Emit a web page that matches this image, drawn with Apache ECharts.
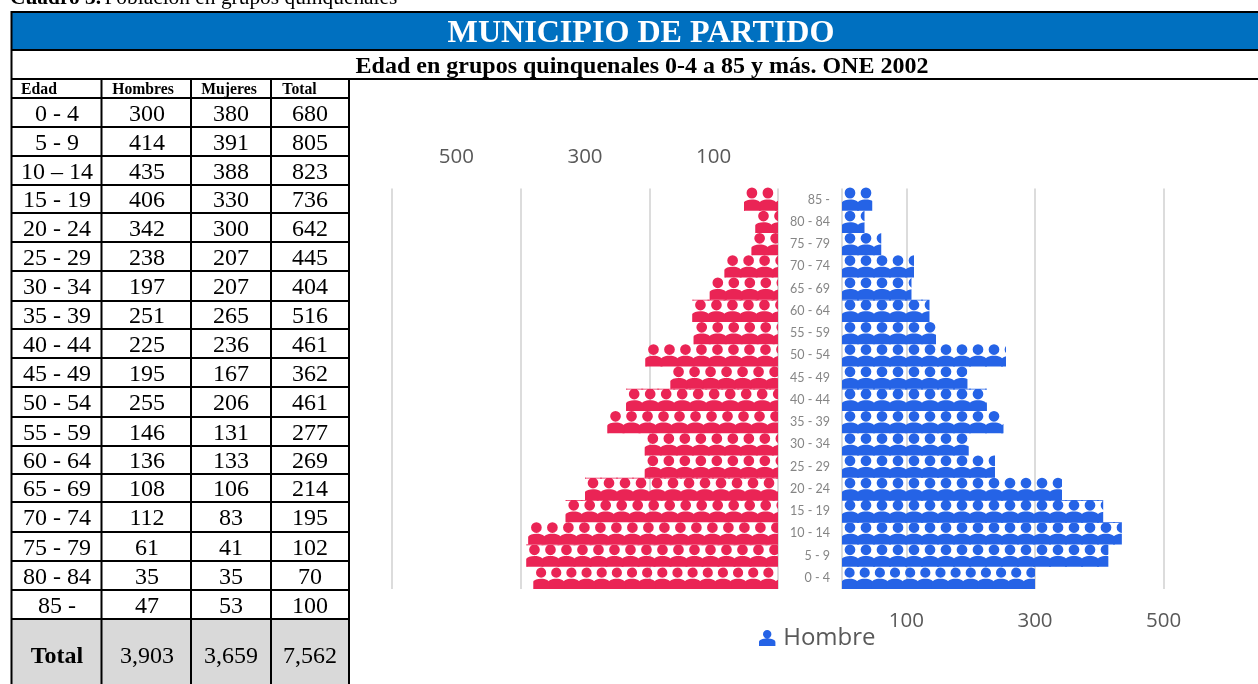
<!DOCTYPE html>
<html>
<head>
<meta charset="utf-8">
<style>html,body{margin:0;padding:0;background:#fff}#c{width:1258px;height:684px}</style>
<script src="https://cdn.jsdelivr.net/npm/echarts@6/dist/echarts.min.js"></script>
</head>
<body>
<div id="c"></div>
<script>
const categories = ['0 - 4','5 - 9','10 - 14','15 - 19','20 - 24','25 - 29','30 - 34','35 - 39','40 - 44','45 - 49','50 - 54','55 - 59','60 - 64','65 - 69','70 - 74','75 - 79','80 - 84','85 -'];
const tableAges = ['0 - 4','5 - 9','10 – 14','15 - 19','20 - 24','25 - 29','30 - 34','35 - 39','40 - 44','45 - 49','50 - 54','55 - 59','60 - 64','65 - 69','70 - 74','75 - 79','80 - 84','85 -'];
const hombres = [300,414,435,406,342,238,197,251,225,195,255,146,136,108,112,61,35,47];
const mujeres = [380,391,388,330,300,207,207,265,236,167,206,131,133,106,83,41,35,53];
const totales = [680,805,823,736,642,445,404,516,461,362,461,277,269,214,195,102,70,100];
const tableHead = ['Edad','Hombres','Mujeres','Total'];
const tableFoot = ['Total','3,903','3,659','7,562'];
const leftLabelTicks = [100,300,500];
const leftGridTicks = [0,200,400,600];
const rightLabelTicks = [100,300,500];
const rightGridTicks = [0,100,300,500];
const titleText = 'MUNICIPIO DE PARTIDO';
const subtitleText = 'Edad en grupos quinquenales 0-4 a 85 y más. ONE 2002';
const redEdgeRows = [1,3,4,8,12];
const blueEdgeRows = [2,3,8,12];

const BLUE = '#2563e6', RED = '#ea2455', GRID = '#dcdcdc', SERIF = '"Liberation Serif","Times New Roman",serif';
const personShape = 'M9 0a5.35 5.35 0 1 1-0.01 0zM0 22.4V16.6C0 13.4 4 11.6 9 11.6S18 13.4 18 16.6V22.4z';
const personPath = 'path://' + personShape;
const personEdgePath = 'path://' + personShape + 'M0 0H18V0.7H0z';
const legendIcon = 'path://M8 0a4.1 4.1 0 1 1-0.01 0zM0 15.6V12C0 9.6 3.5 8.4 8 8.4S16 9.6 16 12V15.6z';
const axisMax = 600, gridW = 386, pxPerUnit = gridW / axisMax, repeatCount = 26, overlap = 2;

function rowStyle(i) {
  if (i === 0) return {w: 15.15, h: 21.4, dy: 0.4};
  if (i === 17) return {w: 16, h: 23.4, dy: -0.5};
  return {w: 16, h: 22.4, dy: 0};
}
function symbolItem(v, i, fromEnd, edgeRows) {
  const s = rowStyle(i);
  const len = v * pxPerUnit;
  const phase = fromEnd ? (s.w - (len % s.w)) % s.w + overlap / 2 : -overlap / 2;
  return {
    value: v,
    symbol: edgeRows.includes(i) ? personEdgePath : personPath,
    symbolSize: [s.w + overlap, s.h],
    symbolRepeat: repeatCount,
    symbolBoundingData: (s.w * (repeatCount - 1) + s.w + overlap) / pxPerUnit,
    symbolOffset: [phase, s.dy]
  };
}

const colX = [11.5, 101.5, 191, 271, 349];
const colC = [57, 147, 231, 310];
const rowY = [98,127,156,185,213,242,271,301,329,358,387,417,446,474,502,532,561,590,619];
const g = [];
function line(x1,y1,x2,y2,w){ g.push({type:'line',silent:true,z:5,shape:{x1,y1,x2,y2},style:{stroke:'#000',lineWidth:w||2}}); }
function txt(x,y,text,size,weight,fill,align){ g.push({type:'text',silent:true,z:6,x,y,style:{text,fill:fill||'#000',font:(weight||'normal')+' '+size+'px '+SERIF,textAlign:align||'center',textVerticalAlign:'middle'}}); }

g.push({type:'rect',silent:true,z:1,shape:{x:12,y:12,width:1246,height:38},style:{fill:'#0070c0'}});
g.push({type:'rect',silent:true,z:1,shape:{x:12,y:619,width:337,height:65},style:{fill:'#d9d9d9'}});
line(11,12,1258,12); line(11,50,1258,50); line(11,79,1258,79);
line(11.5,11,11.5,684);
colX.slice(1).forEach(x => line(x,79,x,684));
rowY.forEach(y => line(11,y,350,y));

g.push({type:'text',silent:true,z:6,x:10,y:-2,style:{text:'{b|Cuadro 3.} {n|Población en grupos quinquenales}',textVerticalAlign:'middle',rich:{
  b:{font:'bold 21.4px '+SERIF,fill:'#000'}, n:{font:'21.4px '+SERIF,fill:'#000'}}}});
txt(641,34,titleText,32.1,'bold','#fff');
txt(642,67,subtitleText,24,'bold');
[39,143,229,299.5].forEach((x,c)=>txt(x,89.5,tableHead[c],15.7,'bold'));
tableAges.forEach((a,r)=>{
  const yc=(rowY[r]+rowY[r+1])/2+2;
  [a,hombres[r],mujeres[r],totales[r]].forEach((v,c)=>txt(colC[c],yc,String(v),24));
});
tableFoot.forEach((t,c)=>txt(colC[c],657,t,24,c===0?'bold':'normal'));

const axisLab = {color:'#595959',fontFamily:'"Open Sans",sans-serif',fontSize:20.5};
function valAxis(gridIndex,pos,inverse,labelTicks,gridTicks){
  return {type:'value',gridIndex,position:pos,inverse,min:0,max:axisMax,
    axisLine:{show:false},
    axisTick:{show:false,customValues:gridTicks},
    axisLabel:Object.assign({},axisLab,{margin:pos==='top'?20.5:22,customValues:labelTicks,hideOverlap:false}),
    splitLine:{show:true,lineStyle:{color:GRID,width:2}}};
}
const option = {
  animation:false,
  backgroundColor:'#fff',
  graphic:{elements:g},
  legend:{data:['Hombre'],left:754,top:621,itemWidth:22,itemHeight:16,itemGap:3,icon:legendIcon,
    textStyle:{color:'#595959',fontFamily:'"Open Sans",sans-serif',fontSize:24}},
  grid:[
    {left:392,top:188.5,width:gridW,height:400.5},
    {left:842,top:188.5,width:gridW,height:400.5}
  ],
  xAxis:[valAxis(0,'top',true,leftLabelTicks,leftGridTicks),valAxis(1,'bottom',false,rightLabelTicks,rightGridTicks)],
  yAxis:[
    {type:'category',gridIndex:0,data:categories,position:'right',axisLine:{show:false},axisTick:{show:false},axisLabel:{show:false}},
    {type:'category',gridIndex:1,data:categories,position:'left',axisLine:{show:false},axisTick:{show:false},
      axisLabel:{color:'#858585',fontFamily:'Lato,sans-serif',fontSize:12.5,margin:12,align:'right',interval:0}}
  ],
  series:[
    {name:'Mujer',type:'pictorialBar',xAxisIndex:0,yAxisIndex:0,barCategoryGap:0,symbolClip:true,symbolPosition:'start',
      itemStyle:{color:RED},data:mujeres.map((v,i)=>symbolItem(v,i,true,redEdgeRows))},
    {name:'Hombre',type:'pictorialBar',xAxisIndex:1,yAxisIndex:1,barCategoryGap:0,symbolClip:true,symbolPosition:'start',
      itemStyle:{color:BLUE},data:hombres.map((v,i)=>symbolItem(v,i,false,blueEdgeRows))}
  ]
};
echarts.init(document.getElementById('c'),null,{renderer:'canvas'}).setOption(option);
</script>
</body>
</html>
